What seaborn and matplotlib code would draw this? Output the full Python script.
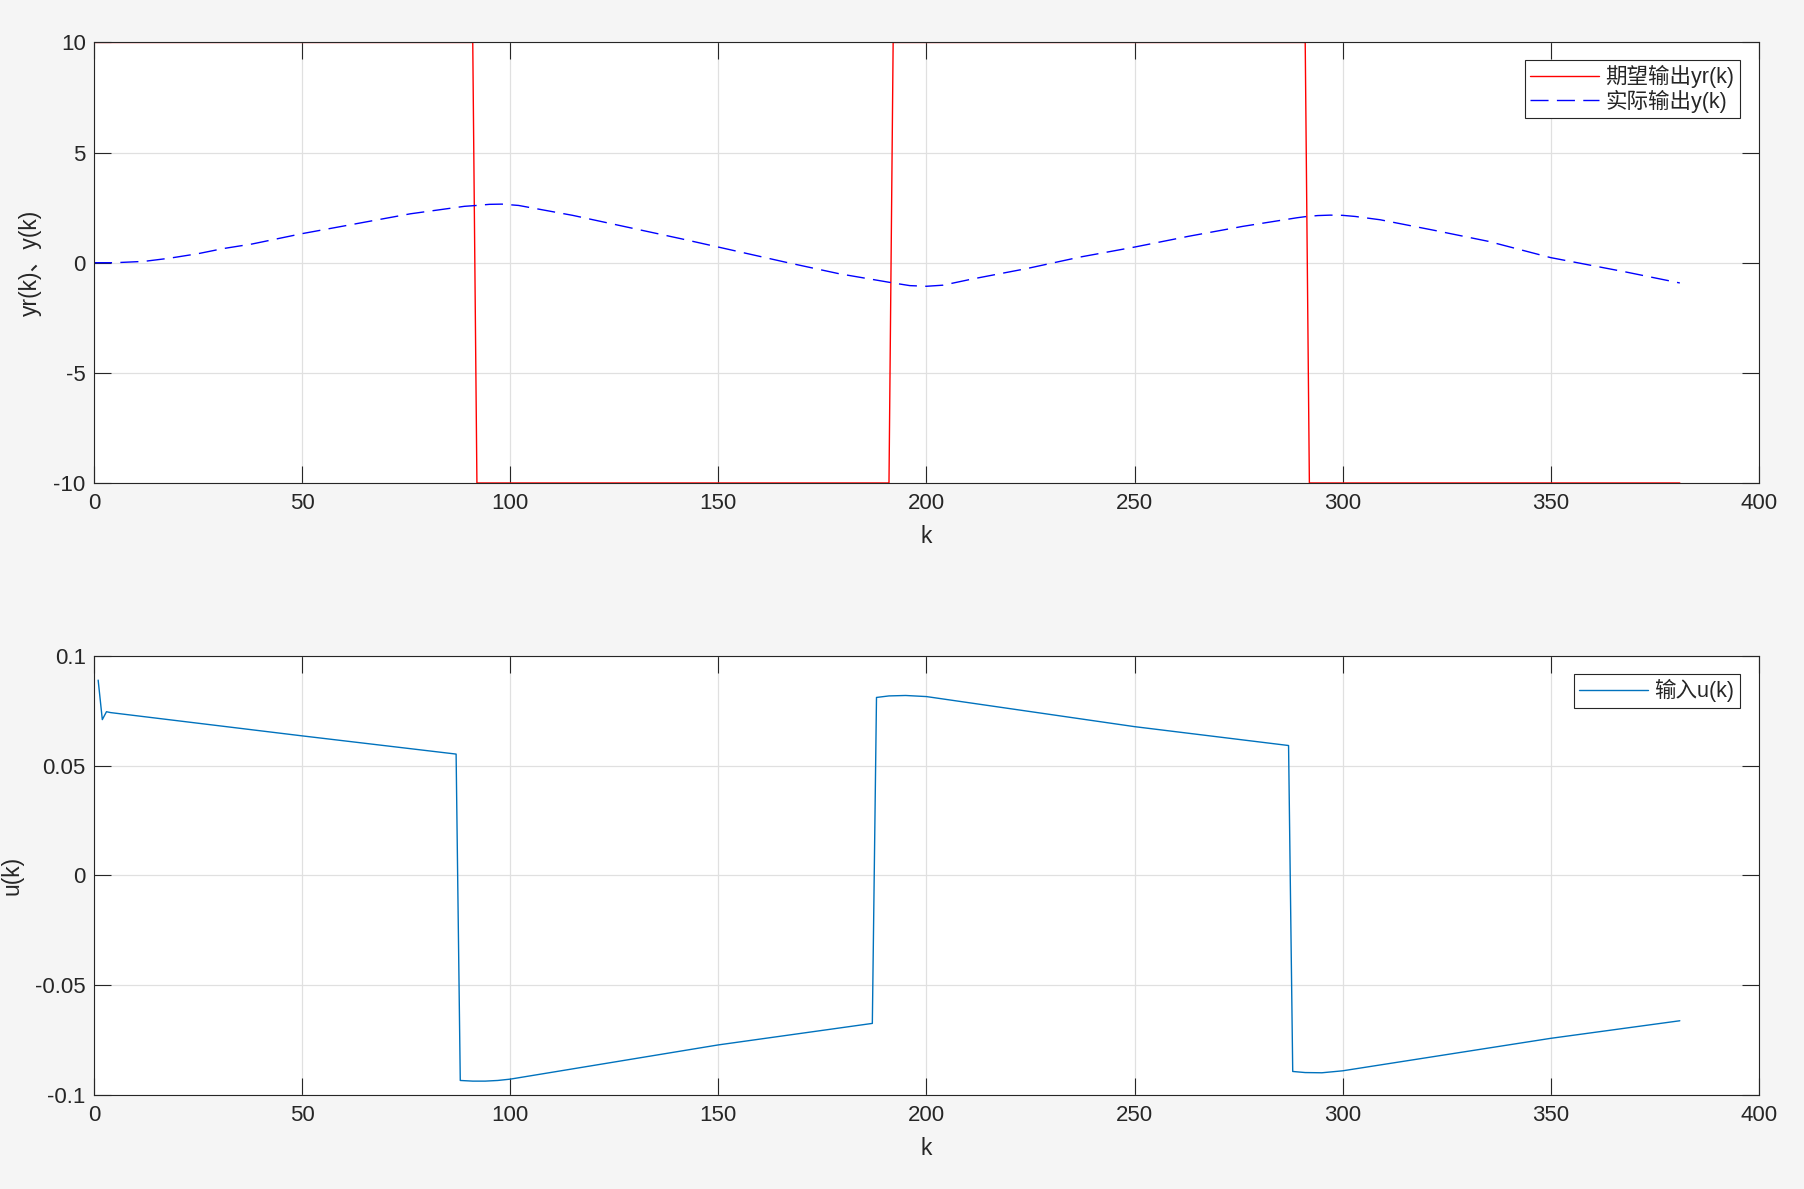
import matplotlib
matplotlib.use("Agg")
import matplotlib.pyplot as plt
import seaborn as sns
import pandas as pd

# desired output yr(k): square wave, breakpoints
yr_k = [0, 91, 92, 191, 192, 291, 292, 381]
yr_val = [10, 10, -10, -10, 10, 10, -10, -10]

# actual output y(k)
y_k = [0, 5, 12, 18, 25, 31, 38, 50, 63, 76, 89, 92, 95, 98, 102, 115, 128, 141, 150, 166, 179,
       192, 196, 200, 204, 211, 224, 237, 250, 263, 276, 289, 291, 294, 297, 300, 303, 309, 322, 335, 350, 368, 381]
y_val = [0, 0, 0.06, 0.2, 0.41, 0.64, 0.85, 1.32, 1.77, 2.22, 2.56, 2.6, 2.65, 2.66, 2.6, 2.15, 1.62, 1.09, 0.71, 0.03, -0.5,
         -0.92, -1.04, -1.07, -1.02, -0.74, -0.27, 0.26, 0.71, 1.2, 1.65, 2.04, 2.09, 2.14, 2.16, 2.15, 2.1, 1.95, 1.47, 0.97,
         0.23, -0.42, -0.92]

# control input u(k)
u_k = [1, 2, 3, 4, 50, 87, 88, 91, 94, 97, 100, 150, 187, 188, 191, 195, 200, 250, 287, 288, 291, 295, 300, 350, 381]
u_val = [0.089, 0.071, 0.0746, 0.0742, 0.0636, 0.0553, -0.0934, -0.0937, -0.0937, -0.0934, -0.0928, -0.0772, -0.0674,
         0.0811, 0.0818, 0.0820, 0.0815, 0.0678, 0.0592, -0.0893, -0.0898, -0.0899, -0.0890, -0.0742, -0.0662]

x_ticks = [0, 50, 100, 150, 200, 250, 300, 350, 400]
y1_ticks = [-10, -5, 0, 5, 10]
y2_ticks = [-0.1, -0.05, 0, 0.05, 0.1]
y2_labels = ["-0.1", "-0.05", "0", "0.05", "0.1"]

sns.set_style("ticks")
plt.rcParams["font.family"] = ["Liberation Sans", "Noto Sans CJK SC", "DejaVu Sans"]
plt.rcParams["axes.unicode_minus"] = False
plt.rcParams["font.size"] = 16

fig = plt.figure(figsize=(18.04, 11.89), dpi=100, facecolor="#f5f5f5")
ax1 = fig.add_axes([0.0521, 0.5938, 0.9229, 0.3705])
ax2 = fig.add_axes([0.0521, 0.0791, 0.9229, 0.3692])

df_yr = pd.DataFrame({"k": yr_k, "v": yr_val})
df_y = pd.DataFrame({"k": y_k, "v": y_val})
df_u = pd.DataFrame({"k": u_k, "v": u_val})

sns.lineplot(data=df_yr, x="k", y="v", ax=ax1, color="#ff0000", linewidth=1.0, label="期望输出yr(k)")
sns.lineplot(data=df_y, x="k", y="v", ax=ax1, color="#0000ff", linewidth=1.0,
             dashes=False, linestyle=(0, (13, 6)), label="实际输出y(k)")
sns.lineplot(data=df_u, x="k", y="v", ax=ax2, color="#0072bd", linewidth=1.0, label="输入u(k)")

dark = "#262626"


def style_axes(ax, yticks, ylim, ylabel, ylab_x):
    ax.set_facecolor("white")
    ax.set_xlim(0, 400)
    ax.set_ylim(*ylim)
    ax.set_xticks(x_ticks)
    ax.set_yticks(yticks)
    ax.grid(True, color="#e0e0e0", linewidth=0.9)
    ax.set_axisbelow(True)
    for s in ax.spines.values():
        s.set_visible(True)
        s.set_color(dark)
        s.set_linewidth(0.8)
    ax.tick_params(direction="in", length=12, width=0.8, colors=dark, labelsize=16,
                   top=True, right=True)
    ax.tick_params(axis="x", pad=7)
    ax.tick_params(axis="y", pad=6)
    ax.set_xlabel("k", fontsize=16.5, color=dark)
    ax.set_ylabel(ylabel, fontsize=16.5, color=dark)
    ax.xaxis.set_label_coords(0.5, -0.095)
    ax.yaxis.set_label_coords(ylab_x, 0.5)


style_axes(ax1, y1_ticks, (-10, 10), "yr(k)、y(k)", -0.031)
ax1.set_yticklabels([str(t) for t in y1_ticks])
style_axes(ax2, y2_ticks, (-0.1, 0.1), "u(k)", -0.0425)
ax2.set_yticklabels(y2_labels)
ax1.set_xticklabels([str(t) for t in x_ticks])
ax2.set_xticklabels([str(t) for t in x_ticks])

for ax, anchor in [(ax1, (0.9886, 0.9605)), (ax2, (0.9886, 0.959))]:
    leg = ax.legend(loc="upper right", bbox_to_anchor=anchor, borderaxespad=0,
                    fontsize=15.5, handlelength=3.2, handletextpad=0.3,
                    labelspacing=0.05, borderpad=0.25, fancybox=False, framealpha=1)
    leg.get_frame().set_edgecolor(dark)
    leg.get_frame().set_linewidth(0.8)
    for t in leg.get_texts():
        t.set_color(dark)

fig.savefig("out.png", dpi=100, facecolor=fig.get_facecolor())
